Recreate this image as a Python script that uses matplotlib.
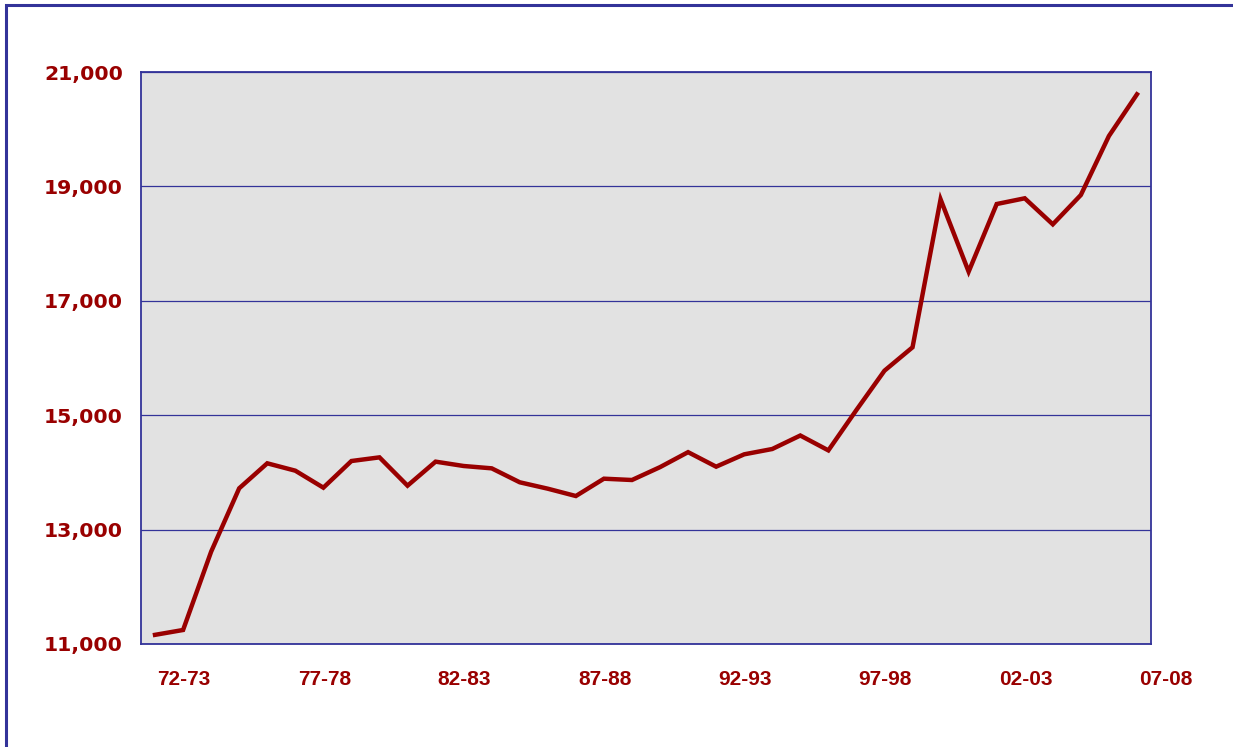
import matplotlib
matplotlib.use("Agg")
import matplotlib.pyplot as plt
import matplotlib.transforms as mtransforms
from matplotlib.patches import Rectangle
from matplotlib.ticker import FuncFormatter

years = ["72-73", "73-74", "74-75", "75-76", "76-77", "77-78", "78-79", "79-80",
         "80-81", "81-82", "82-83", "83-84", "84-85", "85-86", "86-87", "87-88",
         "88-89", "89-90", "90-91", "91-92", "92-93", "93-94", "94-95", "95-96",
         "96-97", "97-98", "98-99", "99-00", "00-01", "01-02", "02-03", "03-04",
         "04-05", "05-06", "06-07", "07-08"]
values = [11160, 11245, 12614, 13722, 14159, 14030, 13733, 14199,
          14263, 13768, 14188, 14112, 14071, 13827, 13715, 13587,
          13890, 13867, 14092, 14354, 14100, 14316, 14409, 14645,
          14385, 15091, 15778, 16187, 18774, 17509, 18692, 18792,
          18337, 18850, 19881, 20610]
yticks = [11000, 13000, 15000, 17000, 19000, 21000]
label_every = 5

RED = "#990000"
BLUE = "#333399"

fig = plt.figure(figsize=(12.33, 7.47), dpi=100)
fig.patch.set_facecolor("white")
fig.patches.append(Rectangle((6 / 1233, -0.05), 1.1, (747 - 5) / 747 + 0.05,
                             transform=fig.transFigure, fill=False,
                             edgecolor=BLUE, linewidth=2.2, zorder=0))

ax = fig.add_axes([141 / 1233, (747 - 644) / 747, (1151 - 141) / 1233, (644 - 72) / 747])
ax.set_facecolor("#E2E2E2")
x = list(range(len(years)))
ax.plot(x, values, color=RED, linewidth=3.2, solid_joinstyle="miter", zorder=3)

ax.set_xlim(-0.5, len(years) - 0.5)
ax.set_ylim(yticks[0], yticks[-1])
ax.set_yticks(yticks)
ax.yaxis.set_major_formatter(FuncFormatter(lambda v, p: f"{int(v):,}"))
ax.grid(axis="y", color=BLUE, linewidth=0.9)
ax.set_axisbelow(True)

tick_idx = list(range(0, len(years), label_every))
ax.set_xticks(tick_idx)
ax.set_xticklabels([years[i] for i in tick_idx])

for s in ax.spines.values():
    s.set_color(BLUE)
    s.set_linewidth(1.3)

ax.tick_params(axis="x", length=0, pad=19, labelcolor=RED)
ax.tick_params(axis="y", length=0, pad=13, labelcolor=RED)
for lab in ax.get_xticklabels():
    lab.set_fontfamily("Liberation Sans")
    lab.set_fontweight("bold")
    lab.set_fontsize(15)
    lab.set_transform(lab.get_transform() + mtransforms.ScaledTranslation(0.29, 0, fig.dpi_scale_trans))
for lab in ax.get_yticklabels():
    lab.set_fontfamily("DejaVu Sans")
    lab.set_fontweight("bold")
    lab.set_fontsize(14.7)

fig.savefig("out.png", dpi=100, facecolor="white")
